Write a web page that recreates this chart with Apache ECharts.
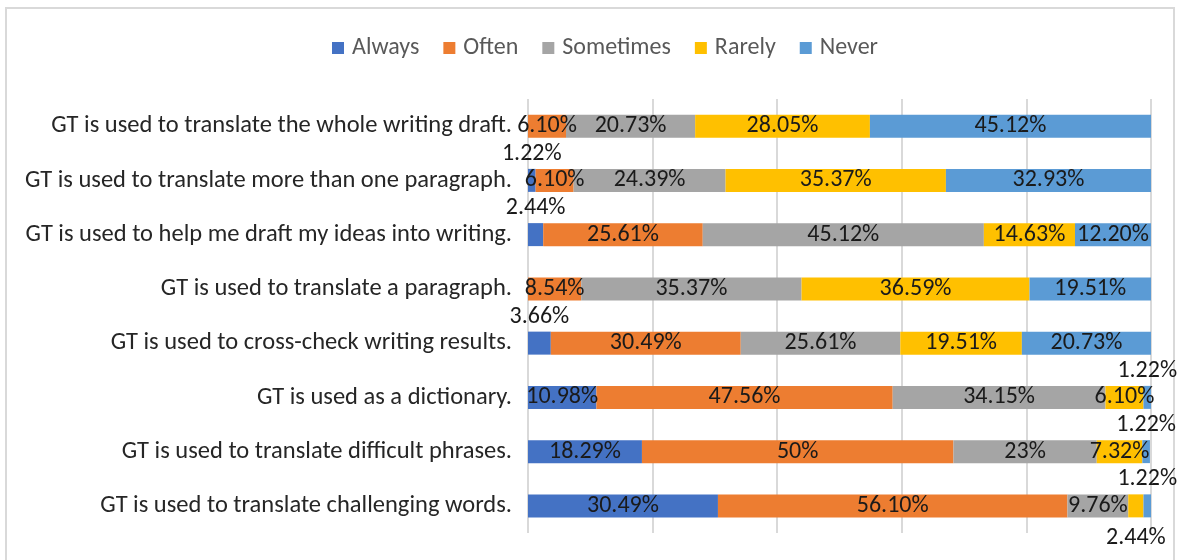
<!DOCTYPE html>
<html>
<head>
<meta charset="utf-8">
<script src="https://cdn.jsdelivr.net/npm/echarts@6/dist/echarts.min.js"></script>
<style>
	html, body { margin: 0; padding: 0; background: #fff; }
	#frame {
		position: absolute; left: 5px; top: 7px; width: 1170px; height: 560px;
		border: 2px solid #d9d9d9; box-sizing: border-box;
	}
	#chart { position: absolute; left: 0; top: 0; width: 1180px; height: 560px; }
</style>
</head>
<body>
<div id="frame"></div>
<div id="chart"></div>
<script>
	// rows from top to bottom of the picture
	const categories = [
		'GT is used to translate the whole writing draft.',
		'GT is used to translate more than one paragraph.',
		'GT is used to help me draft my ideas into writing.',
		'GT is used to translate a paragraph.',
		'GT is used to cross-check writing results.',
		'GT is used as a dictionary.',
		'GT is used to translate difficult phrases.',
		'GT is used to translate challenging words.',
	]
	const always = [0, 1.22, 2.44, 0, 3.66, 10.98, 18.29, 30.49]
	const often = [6.10, 6.10, 25.61, 8.54, 30.49, 47.56, 50, 56.10]
	const sometimes = [20.73, 24.39, 45.12, 35.37, 25.61, 34.15, 23, 9.76]
	const rarely = [28.05, 35.37, 14.63, 36.59, 19.51, 6.10, 7.32, 2.44]
	const never = [45.12, 32.93, 12.20, 19.51, 20.73, 1.22, 1.22, 1.22]
	const xTicks = [0, 20, 40, 60, 80, 100]

	const FONT = 'Carlito, "Liberation Sans", sans-serif'
	const fmt = (v) => (Number.isInteger(v) ? v : v.toFixed(2)) + '%'
	const labelFont = { color: '#1a1a1a', fontSize: 24, fontFamily: FONT }

	// small segments get their label outside the bar, like the original
	function build(values, outside) {
		return values.map((v, i) => {
			if (v === 0) return { value: v, label: { show: false } }
			if (outside && outside[i]) {
				const pos = outside[i]
				return { value: v, label: { show: true, position: pos, distance: pos === 'top' ? 3 : 9 } }
			}
			return v
		})
	}

	const chart = echarts.init(document.getElementById('chart'))
	const names = ['Always', 'Often', 'Sometimes', 'Rarely', 'Never']
	const colors = ['#4472C4', '#ED7D31', '#A5A5A5', '#FFC000', '#5B9BD5']
	const data = [
		build(always, { 1: 'top', 2: 'top', 4: 'top' }),
		build(often),
		build(sometimes),
		build(rarely, { 7: 'bottom' }),
		build(never, { 5: 'top', 6: 'top', 7: 'top' }),
	]

	chart.setOption({
		animation: false,
		color: colors,
		legend: {
			top: 31,
			left: 327,
			itemWidth: 12,
			itemHeight: 12,
			itemGap: 24,
			icon: 'rect',
			textStyle: { color: '#595959', fontSize: 24, fontFamily: FONT, padding: [0, 0, 0, 3] },
			data: names,
		},
		grid: { left: 528, right: 29, top: 99, bottom: 27 },
		xAxis: {
			type: 'value',
			min: xTicks[0],
			max: xTicks[xTicks.length - 1],
			interval: xTicks[1] - xTicks[0],
			axisLabel: { show: false },
			axisLine: { show: false },
			axisTick: { show: false },
			splitLine: { lineStyle: { color: '#d9d9d9', width: 2 } },
		},
		yAxis: {
			type: 'category',
			inverse: true,
			data: categories,
			axisLine: { show: false },
			axisTick: { show: false },
			axisLabel: { margin: 16, color: '#262626', fontSize: 24.5, fontFamily: FONT },
		},
		series: names.map((n, k) => ({
			name: n,
			type: 'bar',
			stack: 'all',
			barWidth: 23,
			data: data[k],
			label: Object.assign({ show: true, position: 'inside', formatter: (p) => fmt(p.value) }, labelFont),
		})),
	})
</script>
</body>
</html>
